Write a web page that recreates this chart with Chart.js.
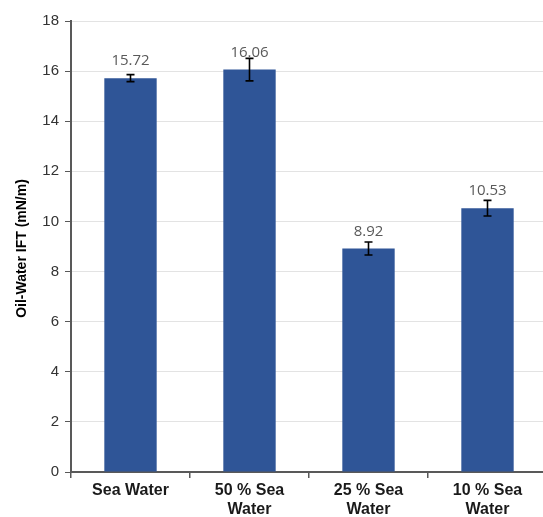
<!DOCTYPE html>
<html>
<head>
<meta charset="utf-8">
<script src="https://cdn.jsdelivr.net/npm/chart.js@4/dist/chart.umd.min.js"></script>
<style>
  html, body { margin: 0; padding: 0; background: #fff; overflow: hidden; }
  #wrap { width: 560px; height: 517px; position: relative; }
</style>
</head>
<body>
<div id="wrap"><canvas id="c" width="560" height="517"></canvas></div>
<script>
// Interfacial tension of oil against diluted sea water
const categories = [["Sea Water"], ["50 % Sea", "Water"], ["25 % Sea", "Water"], ["10 % Sea", "Water"]];
const iftValues = [15.72, 16.06, 8.92, 10.53];
const iftErrors = [0.14, 0.45, 0.26, 0.31];
const yTicks = [0, 2, 4, 6, 8, 10, 12, 14, 16, 18];

const barColor = "#2F5597";

// Error bars and value labels, positioned through the chart's scales
const annotate = {
  id: "annotate",
  afterDatasetsDraw(chart) {
    const { ctx, scales } = chart;
    const meta = chart.getDatasetMeta(0);
    ctx.save();
    meta.data.forEach((bar, i) => {
      const x = bar.x;
      const yHi = scales.y.getPixelForValue(iftValues[i] + iftErrors[i]);
      const yLo = scales.y.getPixelForValue(iftValues[i] - iftErrors[i]);
      ctx.strokeStyle = "#000";
      ctx.lineWidth = 1.6;
      ctx.beginPath();
      ctx.moveTo(x, yHi); ctx.lineTo(x, yLo);
      ctx.moveTo(x - 4, yHi); ctx.lineTo(x + 4, yHi);
      ctx.moveTo(x - 4, yLo); ctx.lineTo(x + 4, yLo);
      ctx.stroke();
      const yTop = scales.y.getPixelForValue(iftValues[i]);
      ctx.fillStyle = "#595959";
      ctx.font = "15px 'Open Sans', sans-serif";
      ctx.textAlign = "center";
      ctx.textBaseline = "middle";
      ctx.fillText(iftValues[i].toFixed(2), x, yTop - 17);
    });
    // vertical axis title
    const yMid = (chart.chartArea.top + chart.chartArea.bottom) / 2 + 2;
    ctx.translate(22, yMid);
    ctx.rotate(-Math.PI / 2);
    ctx.fillStyle = "#000";
    ctx.font = "bold 14px 'Liberation Sans', Arial, sans-serif";
    ctx.textAlign = "center";
    ctx.textBaseline = "middle";
    ctx.fillText("Oil-Water IFT (mN/m)", 0, 0);
    ctx.restore();
  }
};

new Chart(document.getElementById("c"), {
  type: "bar",
  data: {
    labels: categories,
    datasets: [{
      data: iftValues,
      backgroundColor: barColor,
      borderWidth: 0,
      barPercentage: 0.44,
      categoryPercentage: 1.0
    }]
  },
  options: {
    responsive: false,
    animation: false,
    layout: { padding: { top: 21, right: 13, bottom: 0, left: 0 } },
    plugins: { legend: { display: false }, tooltip: { enabled: false } },
    scales: {
      x: {
        offset: true,
        grid: { display: true, drawOnChartArea: false, offset: true, tickLength: 6, color: "#595959", lineWidth: 1.5 },
        border: { display: true, color: "#595959", width: 2 },
        ticks: {
          color: "#1a1a1a",
          font: { family: "'Liberation Sans', Arial, sans-serif", size: 16, weight: "bold", lineHeight: 1.2 },
          padding: 3,
          maxRotation: 0
        },
        afterFit(scale) { scale.height = 45; }
      },
      y: {
        min: 0,
        max: 18,
        afterBuildTicks(scale) { scale.ticks = yTicks.map(v => ({ value: v })); },
        grid: { color: "#e3e3e3", lineWidth: 1, tickLength: 6, tickColor: "#595959" },
        border: { display: true, color: "#595959", width: 2 },
        ticks: {
          color: "#333",
          font: { family: "'Liberation Sans', Arial, sans-serif", size: 15 },
          padding: 6
        },
        afterFit(scale) { scale.width = 71; }
      }
    }
  },
  plugins: [annotate]
});
</script>
</body>
</html>
